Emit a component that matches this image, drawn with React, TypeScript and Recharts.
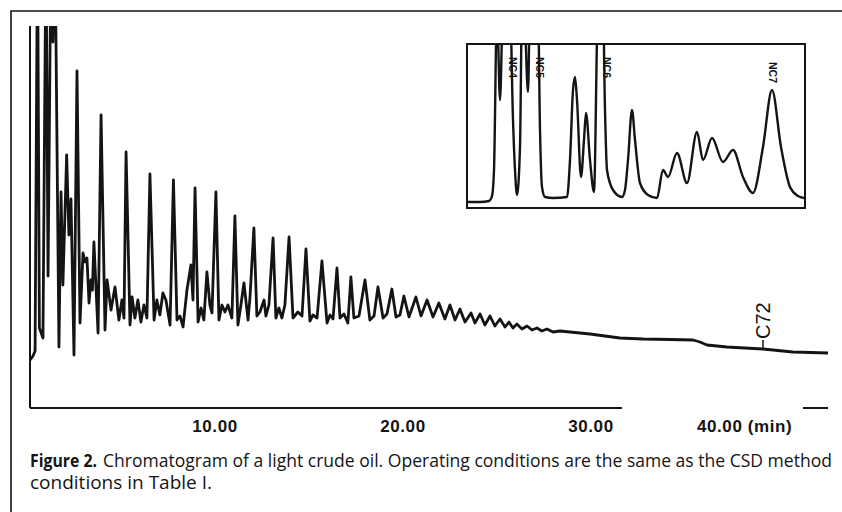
import React from 'react';
import { LineChart, Line, XAxis, YAxis, ReferenceLine, ReferenceDot } from 'recharts';

// Main chromatogram: retention time (min) and detector response (arbitrary units)
const mainTime = [0.16,0.32,0.43,0.56,0.66,0.85,1.01,1.12,1.28,1.38,1.49,1.70,1.81,1.91,2.11,2.23,2.34,2.50,2.66,2.82,2.98,3.09,3.19,3.30,3.40,3.48,3.56,3.78,3.94,4.15,4.26,4.47,4.68,4.89,5.05,5.16,5.27,5.48,5.59,5.74,5.90,6.06,6.22,6.38,6.54,6.76,6.91,7.07,7.23,7.39,7.61,7.79,7.98,8.14,8.30,8.51,8.72,8.83,8.94,9.10,9.26,9.41,9.57,9.73,9.84,10.05,10.21,10.37,10.53,10.69,10.90,11.06,11.22,11.38,11.54,11.76,11.86,12.07,12.23,12.39,12.61,12.71,12.87,13.09,13.24,13.40,13.56,13.72,13.94,14.15,14.41,14.63,14.84,15.05,15.21,15.43,15.69,15.96,16.12,16.28,16.49,16.65,16.86,17.07,17.23,17.39,17.66,17.98,18.24,18.46,18.67,18.94,19.15,19.41,19.63,19.84,20.05,20.32,20.69,20.96,21.28,21.60,21.91,22.23,22.50,22.77,23.03,23.30,23.62,23.83,24.10,24.36,24.63,24.89,25.16,25.43,25.64,25.85,26.06,26.33,26.60,26.86,27.13,27.39,27.66,27.98,28.35,28.88,29.41,29.95,30.74,31.54,32.77,34.20,35.43,35.80,36.17,36.70,37.23,38.19,39.15,40.74,42.61];
const mainSignal = [48,52,57,470,80,70,470,132,470,366,470,61,216,123,253,173,209,53,337,85,155,146,150,105,128,118,166,75,293,78,128,98,121,88,108,90,256,83,111,90,108,86,103,90,234,88,108,93,115,108,83,228,88,92,81,118,143,108,220,86,100,88,136,103,95,216,88,103,96,103,90,192,83,103,125,88,110,180,92,96,108,92,103,170,90,100,90,103,171,90,96,92,159,87,93,90,147,85,93,89,140,90,94,85,131,90,92,128,88,92,121,90,94,119,91,93,112,91,111,92,108,91,105,89,103,88,99,86,95,85,94,83,92,82,89,81,86,80,84,79,82,78,80,77,79,76,77,76,75,74,72,70,69,68.5,68,66,63,62,61,60,59,56,55];

// Inset: early part of the run (light ends)
const insetTime = [0,0.12,0.21,0.24,0.26,0.29,0.32,0.35,0.42,0.45,0.47,0.49,0.52,0.54,0.56,0.60,0.62,0.68,0.70,0.72,0.74,0.77,0.85,0.99,1.02,1.05,1.07,1.09,1.13,1.16,1.18,1.22,1.26,1.30,1.35,1.37,1.39,1.45,1.54,1.57,1.60,1.64,1.67,1.72,1.80,1.89,1.95,2.00,2.09,2.19,2.29,2.35,2.44,2.55,2.65,2.75,2.85,2.95,3.04,3.13,3.22,3.30,3.36];
const insetSignal = [5,5,6,11,37,200,107,200,200,87,37,12,60,200,200,115,200,200,200,77,20,10,9,10,47,117,130,107,30,67,94,47,15,200,200,97,37,17,10,17,47,97,67,24,12,9,37,30,54,24,75,47,69,45,57,30,14,60,117,60,20,11,9];

const insetLabels = ['NC4', 'NC5', 'NC6', 'NC7'];
const insetLabelTime = [0.445, 0.715, 1.385, 3.04];
const insetLabelSignal = [150, 150, 150, 145];

const tickValues = [10, 20, 30, 40];
const tickLabels = ['10.00', '20.00', '30.00', '40.00 (min)'];

const markerLabel = 'C72';
const markerTime = 39.15;
const markerSignal = [59, 68];

const axisSegmentStart = [0.16, 41.28];
const axisSegmentEnd = [31.65, 42.61];
const yAxisRange = [0, 382];

const captionBold = 'Figure 2.';
const captionRest = 'Chromatogram of a light crude oil. Operating conditions are the same as the CSD method';
const captionLine2 = 'conditions in Table I.';

const mainData = mainTime.map((t, i) => ({ t, s: mainSignal[i] }));
const insetData = insetTime.map((t, i) => ({ t, s: insetSignal[i] }));

const INK = '#141414';
const CAPTION_FONT = "'Liberation Sans Narrow', 'Open Sans', sans-serif";

const MainTick = (props: any) => {
  const { x, payload } = props;
  const idx = tickValues.indexOf(payload.value);
  const label = tickLabels[idx];
  const isLast = idx === tickValues.length - 1;
  return (
    <text
      x={isLast ? x - 82 : x}
      y={432}
      textAnchor={isLast ? 'start' : 'middle'}
      fontFamily="'Liberation Sans', Arial, sans-serif"
      fontWeight="bold"
      fontSize={17}
      letterSpacing={0.6}
      fill={INK}
    >
      {label}
    </text>
  );
};

export default function App() {
  return (
    <div style={{ position: 'absolute', left: 0, top: 0, width: 842, height: 512, background: '#fff', overflow: 'hidden' }}>
      <svg width={842} height={512} style={{ position: 'absolute', left: 0, top: 0 }}>
        <path d="M11,512 V11 H842" fill="none" stroke={INK} strokeWidth={1.6} />
        <text x={30} y={467} fontFamily={CAPTION_FONT} fontWeight="bold" fontSize={17} fill={INK}
          textLength={67} lengthAdjust="spacingAndGlyphs">{captionBold}</text>
        <text x={103} y={467} fontFamily={CAPTION_FONT} fontSize={17.5} fill={INK}
          textLength={729} lengthAdjust="spacingAndGlyphs">{captionRest}</text>
        <text x={30} y={489} fontFamily={CAPTION_FONT} fontSize={17.5} fill={INK}
          textLength={182} lengthAdjust="spacingAndGlyphs">{captionLine2}</text>
      </svg>

      <div style={{ position: 'absolute', left: 0, top: 0 }}>
        <LineChart width={842} height={450} data={mainData} margin={{ top: 26, right: 14, bottom: 10, left: 30 }}>
          <XAxis
            dataKey="t"
            type="number"
            domain={[0.16, 42.61]}
            allowDataOverflow
            ticks={tickValues}
            interval={0}
            tick={MainTick}
            axisLine={false}
            tickLine={false}
            height={32}
          />
          <YAxis type="number" domain={yAxisRange} allowDataOverflow hide />
          <ReferenceLine
            segment={[{ x: axisSegmentStart[0], y: yAxisRange[0] }, { x: axisSegmentStart[0], y: yAxisRange[1] }]}
            stroke={INK}
            strokeWidth={2}
          />
          {axisSegmentStart.map((x0, i) => (
            <ReferenceLine
              key={'ax' + i}
              segment={[{ x: x0, y: 0 }, { x: axisSegmentEnd[i], y: 0 }]}
              stroke={INK}
              strokeWidth={2}
            />
          ))}
          <Line
            dataKey="s"
            type="linear"
            stroke={INK}
            strokeWidth={2.8}
            strokeLinejoin="round"
            dot={false}
            isAnimationActive={false}
          />
          <ReferenceLine
            segment={[{ x: markerTime, y: markerSignal[0] }, { x: markerTime, y: markerSignal[1] }]}
            stroke={INK}
            strokeWidth={1.5}
          />
          <ReferenceDot
            x={markerTime}
            y={markerSignal[1]}
            r={0}
            shape={(p: any) => (
              <text
                transform={`translate(${p.cx + 7},${p.cy - 1}) rotate(-90)`}
                fontFamily="'Liberation Sans', Arial, sans-serif"
                fontSize={20}
                fill={INK}
              >
                {markerLabel}
              </text>
            )}
          />
        </LineChart>
      </div>

      <div style={{ position: 'absolute', left: 466, top: 43, width: 336, height: 162, border: `2px solid ${INK}`, background: '#fff' }}>
        <LineChart width={336} height={162} data={insetData} margin={{ top: 0, right: 0, bottom: 0, left: 0 }}>
          <XAxis dataKey="t" type="number" domain={[0, 3.36]} allowDataOverflow hide />
          <YAxis type="number" domain={[0, 162]} allowDataOverflow hide />
          <Line
            dataKey="s"
            type="monotone"
            stroke={INK}
            strokeWidth={2.4}
            strokeLinejoin="round"
            dot={false}
            isAnimationActive={false}
          />
          {insetLabels.map((lab, i) => (
            <ReferenceDot
              key={lab}
              x={insetLabelTime[i]}
              y={insetLabelSignal[i]}
              r={0}
              shape={(p: any) => (
                <text
                  transform={`translate(${p.cx - 3.5},${p.cy}) rotate(90)`}
                  fontFamily="'Liberation Sans', Arial, sans-serif"
                  fontWeight="bold"
                  fontSize={10.5}
                  fill={INK}
                >
                  {lab}
                </text>
              )}
            />
          ))}
        </LineChart>
      </div>
    </div>
  );
}
